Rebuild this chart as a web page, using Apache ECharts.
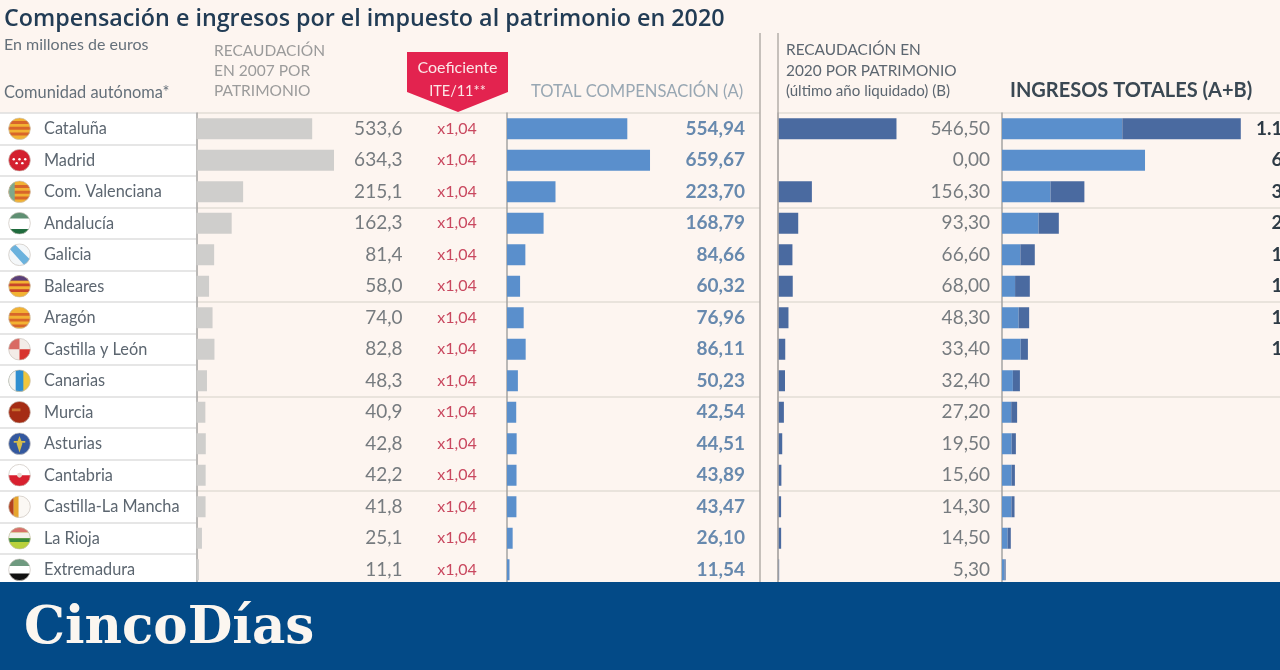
<!DOCTYPE html>
<html><head><meta charset="utf-8">
<script src="https://cdn.jsdelivr.net/npm/echarts@6/dist/echarts.min.js"></script>
<style>html,body{margin:0;padding:0;background:#fdf5f0}#c{width:1280px;height:670px}</style>
</head><body><div id="c"></div>
<script>
const regions = ['Cataluña','Madrid','Com. Valenciana','Andalucía','Galicia','Baleares','Aragón','Castilla y León','Canarias','Murcia','Asturias','Cantabria','Castilla-La Mancha','La Rioja','Extremadura'];
const recaudacion2007 = [533.6,634.3,215.1,162.3,81.4,58.0,74.0,82.8,48.3,40.9,42.8,42.2,41.8,25.1,11.1];
const coeficiente = [1.04,1.04,1.04,1.04,1.04,1.04,1.04,1.04,1.04,1.04,1.04,1.04,1.04,1.04,1.04];
const compensacion = [554.94,659.67,223.70,168.79,84.66,60.32,76.96,86.11,50.23,42.54,44.51,43.89,43.47,26.10,11.54];
const recaudacion2020 = [546.50,0.00,156.30,93.30,66.60,68.00,48.30,33.40,32.40,27.20,19.50,15.60,14.30,14.50,5.30];

const flagArt = [
 '<rect width="24" height="24" fill="#f2b233"/><rect y="4" width="24" height="3" fill="#d8662a"/><rect y="10" width="24" height="3" fill="#d8662a"/><rect y="16" width="24" height="3" fill="#d8662a"/>',
 '<rect width="24" height="24" fill="#d4202f"/><g fill="#fff"><circle cx="6" cy="11" r="1.3"/><circle cx="12" cy="11" r="1.3"/><circle cx="18" cy="11" r="1.3"/><circle cx="9" cy="15" r="1.3"/><circle cx="15" cy="15" r="1.3"/></g>',
 '<rect width="24" height="24" fill="#f2b233"/><rect y="5" width="24" height="3" fill="#d8662a"/><rect y="11" width="24" height="3" fill="#d8662a"/><rect y="17" width="24" height="3" fill="#d8662a"/><rect width="7" height="24" fill="#7fa88a"/>',
 '<rect width="24" height="24" fill="#fff"/><rect width="24" height="7" fill="#5f8f72"/><rect y="18" width="24" height="6" fill="#1f6b3d"/>',
 '<rect width="24" height="24" fill="#f4f7f9"/><path d="M0 4L6 0L24 18L18 24Z" fill="#6bb2dd"/>',
 '<rect width="24" height="24" fill="#f2b233"/><rect y="3" width="24" height="3" fill="#c8452a"/><rect y="9" width="24" height="3" fill="#c8452a"/><rect y="15" width="24" height="3" fill="#c8452a"/><rect width="24" height="6" fill="#5a3f78"/>',
 '<rect width="24" height="24" fill="#f2b233"/><rect y="7" width="24" height="3" fill="#d8662a"/><rect y="13" width="24" height="3" fill="#d8662a"/><rect y="19" width="24" height="3" fill="#d8662a"/>',
 '<rect width="24" height="24" fill="#f3ece8"/><rect width="12" height="12" fill="#d96a64"/><rect x="12" y="12" width="12" height="12" fill="#d8342e"/>',
 '<rect width="24" height="24" fill="#f1c63c"/><rect width="16" height="24" fill="#2f8fd0"/><rect width="8" height="24" fill="#f4f4f0"/>',
 '<rect width="24" height="24" fill="#a52c14"/><rect x="4" y="8" width="9" height="3" fill="#c8702f"/>',
 '<rect width="24" height="24" fill="#33589f"/><path d="M12 4L15 12L12 21L9 12Z" fill="#d6bd4a"/><rect x="6" y="9" width="12" height="2" fill="#d6bd4a"/>',
 '<rect width="24" height="24" fill="#fff"/><rect y="12" width="24" height="12" fill="#d8202f"/><circle cx="12" cy="12" r="2.5" fill="#e8d8d0"/>',
 '<rect width="24" height="24" fill="#fbf8f4"/><rect width="6" height="24" fill="#b3421f"/><rect x="6" width="5" height="24" fill="#e6a52e"/>',
 '<rect width="24" height="24" fill="#b9d13c"/><rect width="24" height="6" fill="#d8706a"/><rect y="6" width="24" height="6" fill="#f4f0ea"/><rect y="12" width="24" height="4" fill="#3a8a3a"/>',
 '<rect width="24" height="24" fill="#fff"/><rect width="24" height="8" fill="#6f9a80"/><rect y="16" width="24" height="8" fill="#111"/>'
];
const flagUrl = art => 'data:image/svg+xml,' + encodeURIComponent('<svg xmlns="http://www.w3.org/2000/svg" width="46" height="46" viewBox="0 0 24 24"><clipPath id="k"><circle cx="12" cy="12" r="11.3"/></clipPath><g clip-path="url(#k)">' + art + '</g><circle cx="12" cy="12" r="11.3" fill="none" stroke="#c9c2ba" stroke-width=".7"/></svg>');

const FONT = 'Lato';
const COMMA = (v, d) => v.toFixed(d).replace('.', ',');
const THOUSANDS = s => s.replace(/^(\d)(\d{3}),/, '$1.$2,');
const PX_PER_EURO = 0.2168;
const rowTop = 113, rowH = 472.5;

const rich = {name:{fontFamily:FONT,fontSize:16.3,color:'#5c6670',padding:[0,0,0,13]}};
flagArt.forEach((a,i)=>{rich['f'+i]={backgroundColor:{image:flagUrl(a)},width:23,height:23};});

const columns = [
 {left:0,width:196},
 {left:196.5,width:310.5},
 {left:507,width:253},
 {left:778,width:224},
 {left:1002,width:329},
 {left:403,width:104}
];
const grid = columns.map((c,i)=>({left:c.left,width:c.width,top:rowTop,height:rowH,show:i===0,backgroundColor:'#fff',borderWidth:0,outerBoundsMode:'none',containLabel:false}));
const xAxis = columns.map((c,i)=>({type:'value',gridIndex:i,min:0,max:c.width/PX_PER_EURO,show:false}));

const lineOf = {show:true,lineStyle:{color:'#a3a3a3',width:1.5}};
const rowRules = {show:true,interval:i=>i%3===0,lineStyle:{color:'#e2dcd6',width:1.5}};
const hidden = {show:false};
const baseY = (g,extra)=>Object.assign({type:'category',gridIndex:g,inverse:true,data:regions,axisTick:hidden,axisLabel:hidden,axisLine:hidden,splitLine:hidden},extra);
const labelsY = (g,texts,margin,color,weight,size)=>({type:'category',gridIndex:g,inverse:true,position:'right',data:texts,axisTick:hidden,axisLine:hidden,splitLine:hidden,
  axisLabel:{show:true,interval:0,align:'right',margin,color,fontFamily:FONT,fontSize:size||19,fontWeight:weight||'normal'}});

const totals = compensacion.map((v,i)=>v+recaudacion2020[i]);
const yAxis = [
 baseY(0,{axisLabel:{show:true,interval:0,align:'left',margin:-8,formatter:(v,i)=>`{f${i}|}{name|${v}}`,rich},splitLine:{show:true,interval:0,lineStyle:{color:'#dedede',width:1.5}}}), //0
 baseY(1,{axisLine:lineOf,splitLine:rowRules}), //1
 baseY(2,{axisLine:lineOf,splitLine:rowRules}), //2
 baseY(3,{axisLine:lineOf,splitLine:rowRules}), //3
 baseY(4,{axisLine:lineOf,splitLine:rowRules}), //4
 labelsY(1,recaudacion2007.map(v=>COMMA(v,1)),-104.5,'#767b7f'), //5
 labelsY(2,compensacion.map(v=>COMMA(v,2)),-15,'#6789ae','bold'), //6
 labelsY(3,recaudacion2020.map(v=>COMMA(v,2)),-12,'#767b7f'), //7
 labelsY(4,totals.map(v=>THOUSANDS(COMMA(v,2))),0,'#2d3a45','bold'), //8
 labelsY(5,coeficiente.map(v=>'x'+COMMA(v,2)),-50,'#c9485f','normal',16) //9
];
yAxis[9].axisLabel.align='center';

const bar = (name,x,y,data,color,stack)=>({type:'bar',name,xAxisIndex:x,yAxisIndex:y,data,stack,barWidth:21,silent:true,itemStyle:{color}});
const series = [
 bar('Recaudación 2007',1,1,recaudacion2007,'#cfcecc'),
 bar('Total compensación',2,2,compensacion,'#5a8fcc'),
 bar('Recaudación 2020',3,3,recaudacion2020,'#4a6aa0'),
 bar('Compensación',4,4,compensacion,'#5a8fcc','t'),
 bar('Patrimonio',4,4,recaudacion2020,'#4a6aa0','t')
];

const txt = (x,y,text,size,fill,extra)=>({type:'text',x,y,z:50,style:Object.assign({text,fontFamily:FONT,fontSize:size,fill,textVerticalAlign:'middle'},extra||{})});
const vline = (x)=>({type:'line',z:3,shape:{x1:x,y1:33,x2:x,y2:582},style:{stroke:'#b3aeaa',lineWidth:1.5}});
const graphic = {elements:[
 vline(760), vline(778),
 txt(4,45,'En millones de euros',16,'#65707a'),
 txt(4,93,'Comunidad autónoma*',16.4,'#65707a'),
 txt(214,50.5,'RECAUDACIÓN',15.5,'#9b9b9b'),
 txt(214,70.5,'EN 2007 POR',15.5,'#9b9b9b'),
 txt(214,90.5,'PATRIMONIO',15.5,'#9b9b9b'),
 {type:'polygon',z:60,shape:{points:[[407,52],[508,52],[508,92],[458,112],[407,92]]},style:{fill:'#e3234f'}},
 txt(457.5,68,'Coeficiente',16,'#fbe6e6',{textAlign:'center'}),
 txt(457.5,91,'ITE/11**',14.5,'#fbe6e6',{textAlign:'center'}),
 txt(531,91.5,'TOTAL COMPENSACIÓN (A)',16.6,'#98a7b3'),
 txt(786,50,'RECAUDACIÓN EN',15.4,'#5c6670'),
 txt(786,71,'2020 POR PATRIMONIO',15.4,'#5c6670'),
 txt(786,91,'(último año liquidado) (B)',15.1,'#5c6670'),
 txt(1010,90.5,'INGRESOS TOTALES (A+B)',20,'#3a4853',{fontWeight:'bold'}),
 {type:'rect',z:90,shape:{x:0,y:582,width:1280,height:88},style:{fill:'#034a87'}},
 txt(24,630,'CincoDías',51.5,'#fbf6f0',{fontFamily:'DejaVu Serif',fontWeight:'bold'})
].map(e=>{ if(e.type==='text') e.z=e.y>580?95:61; return e; })};

const chart = echarts.init(document.getElementById('c'),null,{renderer:'canvas'});
chart.setOption({
 animation:false,
 backgroundColor:'#fdf5f0',
 title:{text:'Compensación e ingresos por el impuesto al patrimonio en 2020',left:4,top:8,padding:0,textStyle:{fontFamily:'Open Sans',fontSize:23.3,fontWeight:600,color:'#223c55'}},
 grid,xAxis,yAxis,series,graphic
});
</script></body></html>
